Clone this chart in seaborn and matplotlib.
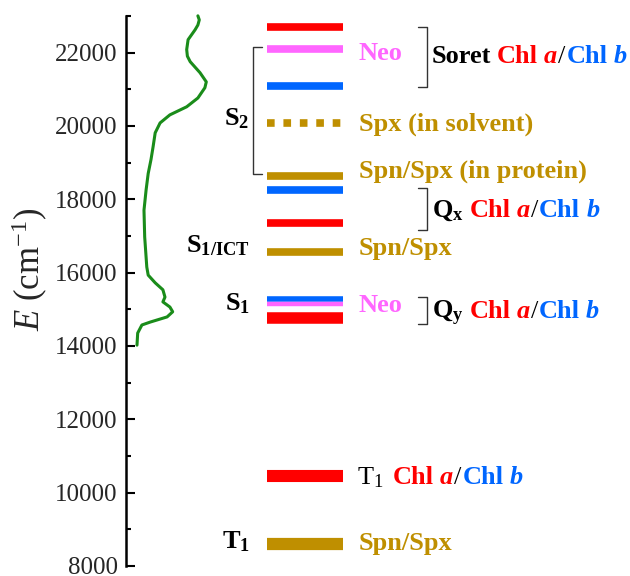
import matplotlib
matplotlib.use('Agg')
import matplotlib.pyplot as plt
import matplotlib.transforms as mtransforms
from matplotlib.ticker import MultipleLocator
import seaborn as sns
import pandas as pd

# absorption spectrum (arbitrary units) vs energy
spec_energy = [23000, 22890, 22750, 22620, 22350, 22080, 21900, 21750, 21450,
               21200, 21040, 20760, 20520, 20300, 20080, 19810, 19430, 19080,
               18700, 18250, 17700, 16970, 16150, 15930, 15720, 15530, 15330,
               15200, 15060, 14930, 14790, 14650, 14570, 14350, 14020]
spec_abs = [0.87, 0.89, 0.87, 0.83, 0.73, 0.71, 0.72, 0.76, 0.90,
            0.99, 0.97, 0.87, 0.71, 0.47, 0.33, 0.26, 0.23, 0.20,
            0.16, 0.13, 0.10, 0.11, 0.14, 0.16, 0.26, 0.37, 0.40,
            0.37, 0.47, 0.51, 0.43, 0.19, 0.07, 0.01, 0.00]

# energy levels (cm-1)
level_names = ["Chl a Soret", "Neo S2", "Chl b Soret", "Spx S2 solvent",
               "Spn/Spx S2 protein", "Chl b Qx", "Chl a Qx", "Spn/Spx S1/ICT",
               "Chl b Qy", "Neo S1", "Chl a Qy", "Chl a T1", "Spn/Spx T1"]
level_energy = [22700, 22090, 21080, 20080, 18640, 18250, 17340, 16570,
                15265, 15130, 14750, 10450, 8600]

yticks_major = [8000, 10000, 12000, 14000, 16000, 18000, 20000, 22000]

RED = '#FF0000'
BLUE = '#0066FF'
PINK = '#FF66FF'
GOLD = '#BF8F00'
GREEN = '#1A8C1A'
SERIF = 'Liberation Serif'

sns.set_style("ticks")
plt.rcParams['font.family'] = 'serif'
plt.rcParams['font.serif'] = [SERIF, 'DejaVu Serif']
plt.rcParams['mathtext.fontset'] = 'custom'
plt.rcParams['mathtext.rm'] = SERIF
plt.rcParams['mathtext.it'] = SERIF + ':italic'
plt.rcParams['mathtext.bf'] = SERIF + ':bold'

fig = plt.figure(figsize=(6.3, 5.76), dpi=100)
ax = fig.add_axes([0.2, 0.0175, 0.8, 0.955])

df = pd.DataFrame({'E': spec_energy, 'A': spec_abs})
sns.lineplot(data=df, x='A', y='E', sort=False, estimator=None, orient='y',
             color=GREEN, linewidth=2.2, ax=ax)
ax.lines[-1].set_solid_joinstyle('round')
ax.lines[-1].set_clip_on(False)

# level styles
col = {"Chl a": RED, "Chl b": BLUE, "Neo": PINK, "Spx": GOLD, "Spn/Spx": GOLD}
width = {"Chl a T1": 8.7, "Spn/Spx T1": 8.8, "Chl a Qy": 8.3,
         "Chl b Qy": 4.0, "Neo S1": 3.2}
X0, X1 = 1.86, 2.94
for name, e in zip(level_names, level_energy):
    key = name.rsplit(' ', 1)[0]
    c = col[key] if key in col else col[name.split(' ')[0]]
    ls = (0, (1.0, 1.15)) if 'solvent' in name else 'solid'
    ax.hlines(e, X0, X1, colors=c, linewidth=width.get(name, 5.5),
              linestyles=ls, capstyle='butt')

FS = 19
renderer = fig.canvas.get_renderer()


def piece_text(x, y, pieces):
    # several differently coloured pieces on one baseline
    trans = ax.transData
    for s, c, kw, gap in pieces:
        t = ax.text(x, y, s, color=c, transform=trans, ha='left',
                    va='baseline', fontsize=FS, family=SERIF, **kw)
        w = t.get_window_extent(renderer=renderer).width
        trans = mtransforms.offset_copy(trans, fig=fig, x=w + gap, y=0,
                                        units='dots')


B = dict(fontweight='bold')
BI = dict(fontweight='bold', fontstyle='italic')
N = dict()
chl = [("Chl", RED, B, 6), ("a", RED, BI, 1), ("/", 'black', N, 1),
       ("Chl", BLUE, B, 6), ("b", BLUE, BI, 0)]

LX = 3.17
NX = 4.21
labels = [("Neo", PINK, 21800), ("Spx (in solvent)", GOLD, 19860),
          ("Spn/Spx (in protein)", GOLD, 18590), ("Spn/Spx", GOLD, 16480),
          ("Neo", PINK, 14930), ("Spn/Spx", GOLD, 8430)]
for s, c, e in labels:
    ax.text(LX, e, s, color=c, fontsize=FS, fontweight='bold', va='baseline',
            family=SERIF)

piece_text(NX, 21720, [("Soret", 'black', B, 6)] + chl)
piece_text(NX, 17520, [(r"$\mathbf{Q}_\mathbf{x}$", 'black', N, 6)] + chl)
piece_text(NX, 14750, [(r"$\mathbf{Q}_\mathbf{y}$", 'black', N, 6)] + chl)
piece_text(3.15, 10230, [(r"$\mathrm{T}_\mathrm{1}$", 'black', N, 9)] + chl)

SX = 1.61
for s, e in [(r"$\mathbf{S}_\mathbf{2}$", 20020),
             (r"$\mathbf{S}_\mathbf{1/ICT}$", 16560),
             (r"$\mathbf{S}_\mathbf{1}$", 14980),
             (r"$\mathbf{T}_\mathbf{1}$", 8480)]:
    ax.text(SX, e, s, ha='right', va='baseline', fontsize=FS, color='black')

# brackets
bk = dict(color='#333333', linewidth=1.0)
ax.plot([1.78, 1.66, 1.66, 1.78], [22150, 22150, 18690, 18690], **bk)
for top, bot in [(22700, 21060), (18300, 17160), (15330, 14600)]:
    ax.plot([4.02, 4.14, 4.14, 4.02], [top, top, bot, bot], **bk)

ax.set_xlim(-0.157, 7.043)
ax.set_ylim(8000, 23000)
ax.set_yticks(yticks_major)
ax.yaxis.set_minor_locator(MultipleLocator(1000))
ax.tick_params(axis='y', which='major', direction='in', length=6.5, width=1.5,
               labelsize=18, pad=6, color='black')
ax.tick_params(axis='y', which='minor', direction='in', length=3.5, width=1.5,
               color='black')
for lab in ax.get_yticklabels():
    lab.set_family(SERIF)
ax.set_xticks([])
for side in ['top', 'right', 'bottom']:
    ax.spines[side].set_visible(False)
ax.spines['left'].set_linewidth(1.8)
ax.spines['left'].set_color('black')
ax.set_xlabel('')
ax.set_ylabel(r'$E$ (cm$^{-1}$)', fontsize=25, family=SERIF)
ax.yaxis.set_label_coords(-0.15, 0.54)

fig.savefig('out.png', dpi=100)
